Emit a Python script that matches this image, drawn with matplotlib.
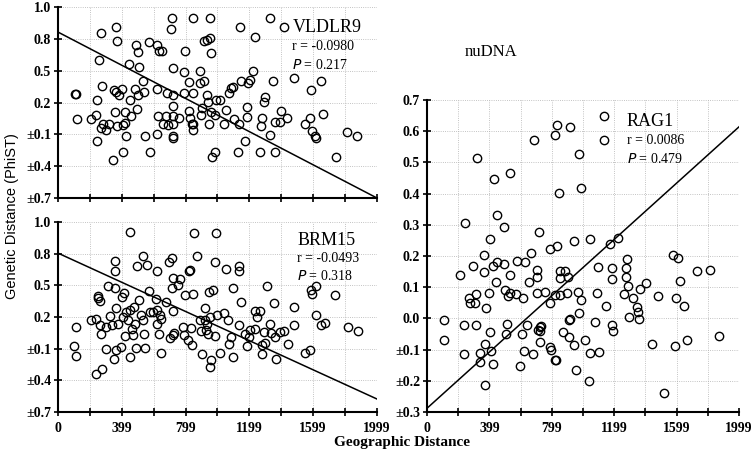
import numpy as np
import matplotlib
matplotlib.use("Agg")
import matplotlib.pyplot as plt

plt.rcParams['font.family'] = ['Liberation Serif', 'DejaVu Serif']

# VLDLR9 (top left): (geographic distance, genetic distance)
vldlr_pts = [
    (105, 0.283), (115, 0.283), (119, 0.045), (210, 0.045), (241, 0.085), (243, -0.166),
    (247, 0.227), (258, 0.601), (272, 0.852), (275, 0.356), (272, -0.040), (283, 0.001),
    (304, -0.062), (317, -0.003), (346, -0.339), (350, 0.321), (356, 0.111), (363, 0.302),
    (371, -0.024), (361, 0.912), (367, 0.776), (384, 0.268), (400, 0.330), (409, -0.012),
    (419, 0.004), (409, -0.263), (425, -0.112), (423, 0.111), (444, 0.560), (451, 0.227),
    (457, 0.070), (480, 0.327), (486, 0.739), (493, 0.142), (499, 0.673), (503, 0.268),
    (509, 0.531), (530, 0.406), (539, 0.296), (543, -0.112), (572, 0.767), (579, -0.263),
    (618, 0.745), (618, 0.327), (623, -0.097), (625, 0.070), (635, 0.682), (650, 0.682),
    (656, 0.001), (677, 0.070), (683, 0.290), (692, -0.009), (706, 0.893), (717, 0.996),
    (723, 0.525), (723, 0.164), (719, 0.001), (721, -0.112), (723, -0.134), (723, 0.070),
    (723, 0.268), (759, 0.051), (788, 0.484), (796, 0.682), (792, 0.290), (820, 0.393),
    (824, 0.117), (828, 0.054), (838, -0.003), (843, -0.056), (849, -0.006), (845, 0.996),
    (849, 0.290), (887, 0.384), (891, 0.497), (895, 0.085), (905, 0.151), (912, 0.776),
    (916, 0.406), (933, 0.274), (933, 0.792), (943, 0.202), (945, -0.003), (954, 0.808),
    (954, 0.996), (956, 0.667), (958, 0.114), (966, -0.317), (985, -0.266), (983, 0.085),
    (991, 0.221), (1017, 0.227), (1042, 0.001), (1050, 0.133), (1071, 0.290), (1084, 0.337),
    (1094, 0.346), (1100, 0.045), (1128, -0.266), (1134, -0.003), (1138, 0.912),
    (1147, 0.406), (1174, -0.166), (1184, 0.063), (1186, 0.155), (1188, 0.384),
    (1205, 0.409), (1220, 0.494), (1237, 0.817), (1264, -0.266), (1272, -0.024),
    (1279, 0.051), (1289, 0.205), (1295, 0.252), (1327, -0.109), (1331, 0.996),
    (1348, 0.400), (1362, -0.266), (1358, 0.013), (1394, 0.013), (1400, 0.117),
    (1419, 0.912), (1436, 0.054), (1478, 0.428), (1545, 0.001), (1578, 0.051),
    (1587, 0.315), (1593, -0.072), (1608, -0.112), (1614, -0.134), (1650, 0.400),
    (1662, 0.092), (1740, -0.317), (1813, -0.081), (1876, -0.119),
]

# BRM15 (bottom left)
brm_pts = [
    (99, -0.075), (114, 0.105), (114, -0.173), (204, 0.175), (236, 0.184), (236, -0.337),
    (250, 0.402), (253, 0.383), (261, 0.348), (263, 0.121), (267, 0.036), (274, -0.296),
    (299, 0.102), (303, -0.106), (312, 0.497), (326, 0.213), (341, 0.124), (352, -0.198),
    (356, 0.727), (356, 0.633), (358, 0.475), (366, 0.288), (366, -0.116), (373, 0.137),
    (394, -0.084), (404, 0.389), (408, 0.200), (415, 0.424), (421, 0.017), (425, 0.247),
    (436, 0.168), (450, -0.179), (450, 1.005), (453, 0.263), (463, 0.089), (472, 0.029),
    (478, 0.295), (482, 0.130), (488, -0.094), (493, 0.683), (505, 0.364), (520, 0.216),
    (530, 0.778), (535, 0.168), (541, 0.036), (543, -0.094), (560, 0.693), (573, 0.446),
    (577, 0.247), (598, 0.244), (615, 0.374), (619, 0.633), (621, 0.263), (621, 0.130),
    (632, 0.042), (640, 0.222), (646, -0.141), (646, 0.184), (674, 0.342), (695, 0.721),
    (703, -0.002), (716, 0.759), (716, 0.478), (720, 0.569), (722, 0.257), (722, 0.026),
    (730, 0.048), (751, 0.506), (762, 0.557), (783, 0.105), (787, 0.033), (794, 0.405),
    (815, -0.015), (821, 0.633), (829, 0.642), (836, 0.099), (842, -0.068), (846, 0.415),
    (850, 0.999), (874, 0.775), (888, 0.168), (899, 0.067), (901, -0.147), (920, 0.288),
    (924, 0.168), (930, 0.080), (935, 0.137), (941, 0.036), (947, 0.437), (952, -0.274),
    (952, 0.200), (962, -0.204), (971, 0.453), (983, 0.017), (983, 0.721), (989, 0.999),
    (998, 0.216), (1015, -0.141), (1040, 0.238), (1053, 0.658), (1067, 0.175),
    (1074, -0.053), (1084, 0.011), (1095, 0.478), (1099, -0.179), (1137, 0.121),
    (1147, 0.339), (1133, 0.680), (1133, 0.633), (1172, 0.036), (1183, -0.078),
    (1194, 0.011), (1204, 0.080), (1234, 0.089), (1236, 0.257), (1250, 0.200),
    (1267, 0.257), (1278, -0.068), (1278, -0.147), (1288, 0.058), (1295, -0.046),
    (1309, 0.490), (1330, 0.137), (1337, 0.052), (1351, 0.336), (1362, 0.011),
    (1364, -0.195), (1394, 0.058), (1415, 0.067), (1440, -0.059), (1478, 0.295),
    (1482, 0.127), (1551, -0.141), (1579, -0.116), (1587, 0.453), (1594, 0.415),
    (1615, 0.494), (1615, 0.222), (1650, 0.127), (1671, 0.146), (1737, 0.412),
    (1819, 0.105), (1878, 0.067),
]

# RAG1 (right)
rag_pts = [
    (111, -0.006), (111, -0.070), (209, 0.138), (235, -0.022), (235, -0.113), (245, 0.306),
    (267, 0.064), (277, 0.050), (294, 0.167), (305, 0.050), (316, 0.077), (320, 0.514),
    (316, -0.020), (337, -0.111), (341, -0.140), (363, 0.203), (367, 0.149), (373, -0.081),
    (378, 0.032), (373, -0.212), (395, 0.083), (401, -0.045), (405, 0.256), (410, -0.104),
    (423, 0.168), (427, 0.448), (423, -0.145), (444, 0.118), (448, 0.181), (450, 0.333),
    (491, 0.174), (495, 0.294), (501, 0.090), (508, -0.049), (512, -0.019), (521, 0.073),
    (529, 0.467), (529, 0.138), (534, 0.080), (568, 0.078), (576, 0.183), (598, -0.152),
    (610, -0.049), (615, 0.064), (623, -0.104), (630, 0.181), (640, -0.021), (653, 0.117),
    (666, 0.211), (679, -0.115), (683, 0.572), (704, 0.155), (704, 0.133), (704, 0.083),
    (708, -0.038), (715, 0.278), (721, -0.075), (726, -0.027), (730, -0.025), (726, -0.040),
    (758, 0.085), (785, 0.048), (790, 0.221), (790, -0.091), (794, -0.102), (822, 0.074),
    (822, -0.132), (822, 0.588), (828, -0.134), (832, 0.620), (832, 0.233), (843, 0.401),
    (849, 0.128), (854, 0.152), (854, 0.074), (871, -0.043), (881, 0.152), (896, 0.080),
    (901, 0.133), (907, -0.006), (909, -0.059), (913, 0.614), (918, -0.002), (939, -0.084),
    (943, 0.249), (956, -0.164), (965, 0.085), (977, 0.018), (977, 0.527), (986, 0.058),
    (986, 0.419), (1014, -0.068), (1035, -0.202), (1046, 0.256), (1046, -0.110),
    (1078, -0.011), (1088, 0.083), (1095, 0.164), (1101, -0.107), (1131, 0.650),
    (1131, 0.572), (1148, 0.039), (1174, 0.238), (1184, 0.163), (1186, 0.125),
    (1186, -0.022), (1189, -0.040), (1221, 0.257), (1263, 0.078), (1276, 0.163),
    (1276, 0.133), (1280, 0.192), (1285, 0.103), (1291, 0.005), (1323, 0.067),
    (1344, 0.037), (1355, 0.020), (1361, -0.002), (1366, 0.095), (1404, 0.112),
    (1440, -0.081), (1477, 0.071), (1519, -0.239), (1575, 0.203), (1590, -0.089),
    (1596, 0.064), (1611, 0.195), (1618, 0.120), (1647, 0.041), (1665, -0.070),
    (1729, 0.152), (1814, 0.155), (1874, -0.056),
]

# regression lines (values at x = 0 and x = 1999)
vldlr_fit = [0.864, -0.700]
brm_fit = [0.805, -0.577]
rag_fit = [-0.288, 0.614]

x_ticks = np.linspace(0, 1999, 11)
x_labels = ['0', '', '399', '', '799', '', '1199', '', '1599', '', '1999']
left_yticks = [-0.7, -0.4, -0.1, 0.2, 0.5, 0.8, 1.1]
left_ylabels = ['\u00b10.7', '\u00b10.4', '\u00b10.1', '0.2', '0.5', '0.8', '1.0']
right_yticks = np.round(np.arange(-0.3, 0.71, 0.1), 1)
right_ylabels = ['\u00b10.3', '\u00b10.2', '\u00b10.1', '0.0', '0.1', '0.2', '0.3',
                 '0.4', '0.5', '0.6', '0.7']

fig = plt.figure(figsize=(7.55, 4.59), dpi=100)
ax1 = fig.add_axes([0.0768, 0.5686, 0.4225, 0.4161])
ax2 = fig.add_axes([0.0768, 0.1024, 0.4225, 0.414])
ax3 = fig.add_axes([0.5656, 0.1024, 0.4132, 0.6797])


def style_axes(ax, yticks, ylabels, ylim, show_xlabels=True):
    ax.set_xlim(0, 1999)
    ax.set_ylim(*ylim)
    ax.set_xticks(x_ticks)
    ax.set_xticklabels(x_labels if show_xlabels else [''] * len(x_ticks))
    ax.set_yticks(yticks)
    ax.set_yticklabels(ylabels)
    for s in ['top', 'right']:
        ax.spines[s].set_visible(False)
    for s in ['left', 'bottom']:
        ax.spines[s].set_linewidth(1.5)
    ax.tick_params(direction='inout', length=6, width=1.2, labelsize=10, pad=2)
    ax.tick_params(axis='x', pad=4)
    for lab in ax.get_xticklabels() + ax.get_yticklabels():
        lab.set_fontweight('bold')
    ax.grid(True, color='#b0b0b0', linestyle=':', linewidth=0.6)
    ax.set_axisbelow(True)


def panel(ax, pts, fit, name, r_txt, p_txt, tx, ty, dy):
    x, y = zip(*pts)
    ax.plot(x, y, 'o', mfc='none', mec='black', ms=6, mew=1.0, clip_on=False)
    ax.plot([0, 1999], fit, color='black', lw=1.1)
    ax.text(tx, ty, name, transform=ax.transAxes, fontsize=13, va='center')
    ax.text(tx, ty - dy, 'r = ' + r_txt, transform=ax.transAxes, fontsize=10, va='center')
    ax.text(tx, ty - 2 * dy, '$\\it{P}$ = ' + p_txt, transform=ax.transAxes,
            fontsize=10, va='center')


panel(ax1, vldlr_pts, vldlr_fit, 'VLDLR9', '-0.0980', '0.217', 0.735, 0.895, 0.1)
style_axes(ax1, left_yticks, left_ylabels, (-0.7, 1.1), show_xlabels=False)

panel(ax2, brm_pts, brm_fit, 'BRM15', '-0.0493', '0.318', 0.75, 0.9, 0.092)
style_axes(ax2, left_yticks, left_ylabels, (-0.7, 1.1))

panel(ax3, rag_pts, rag_fit, 'RAG1', '0.0086', '0.479', 0.64, 0.93, 0.06)
style_axes(ax3, right_yticks, right_ylabels, (-0.3, 0.7))

fig.text(0.016, 0.53, 'Genetic Distance (PhiST)', rotation=90, ha='center', va='center',
         fontsize=10.5, family=['Liberation Sans', 'DejaVu Sans'])
fig.text(0.533, 0.035, 'Geographic Distance', ha='center', va='center', fontsize=11,
         fontweight='bold')
fig.text(0.65, 0.887, 'nuDNA', ha='center', va='center', fontsize=12)

fig.savefig('out.png', dpi=100)
